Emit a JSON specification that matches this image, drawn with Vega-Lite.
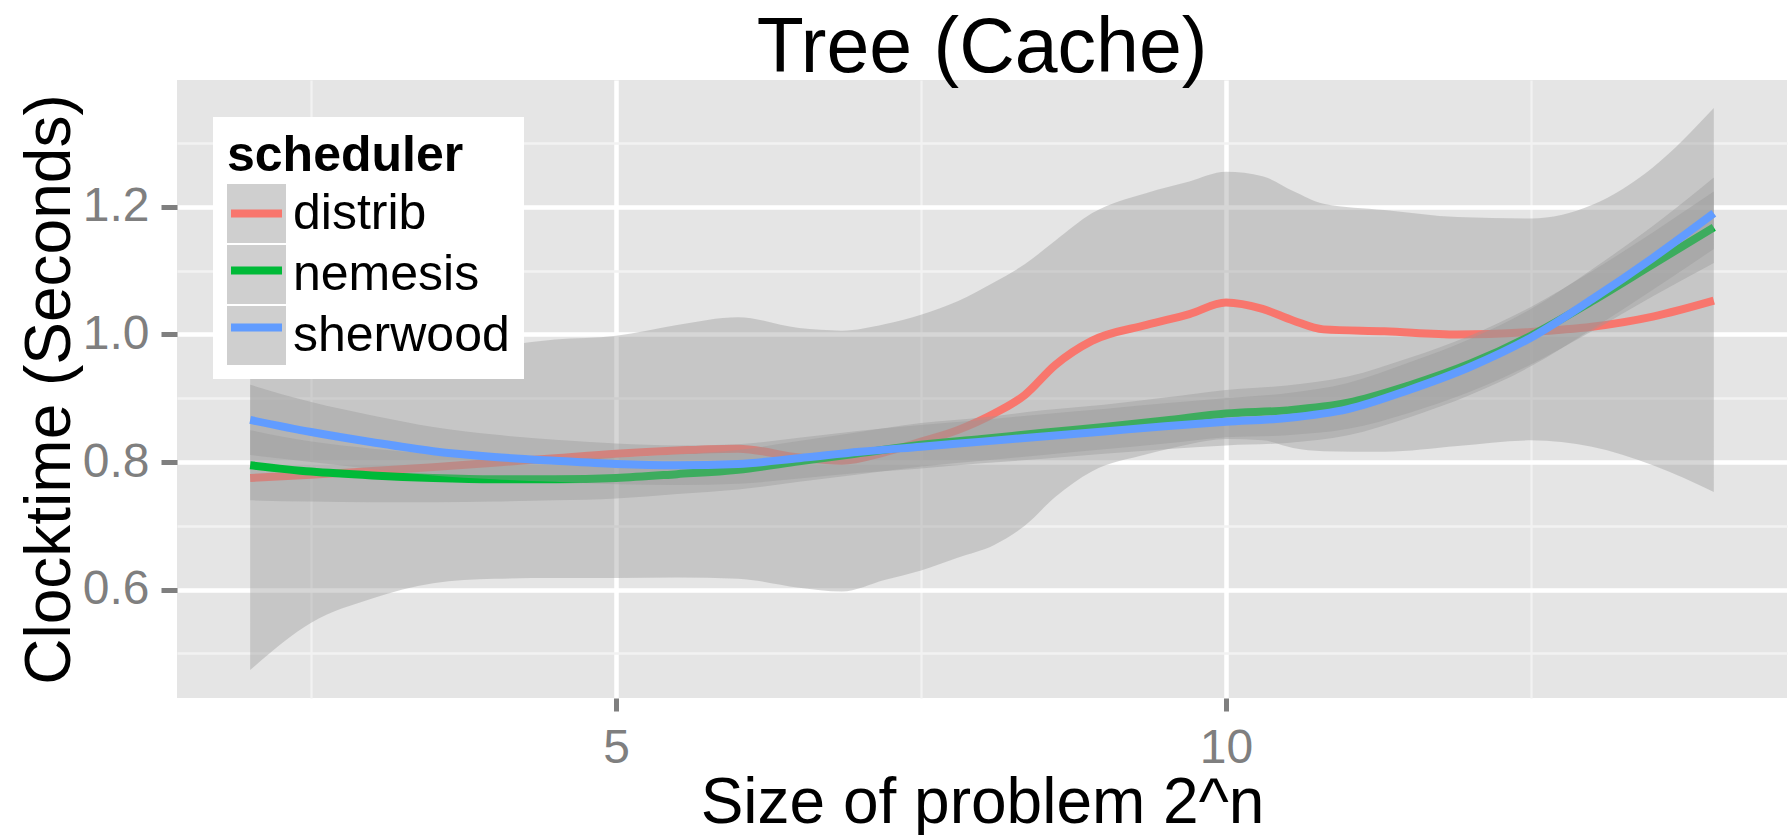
{
  "$schema": "https://vega.github.io/schema/vega-lite/v6.json",
  "width": 1610,
  "height": 618,
  "autosize": "none",
  "padding": {"left": 177, "top": 80, "right": 5, "bottom": 137},
  "background": "white",
  "title": {
    "text": "Tree (Cache)",
    "font": "Liberation Sans",
    "fontSize": 77,
    "fontWeight": "normal",
    "color": "black",
    "anchor": "middle",
    "frame": "group",
    "baseline": "alphabetic",
    "offset": 9,
    "dy": 78
  },
  "config": {
    "view": {"fill": "#E5E5E5", "stroke": null},
    "axis": {"domain": false, "labelFont": "Liberation Sans", "titleFont": "Liberation Sans"}
  },
  "data": {
    "values": [
      {"scheduler": "distrib", "n": 2, "clocktime": 0.775, "lower": 0.474, "upper": 1.076},
      {"scheduler": "distrib", "n": 2.5, "clocktime": 0.780, "lower": 0.548, "upper": 1.012},
      {"scheduler": "distrib", "n": 3, "clocktime": 0.786, "lower": 0.586, "upper": 0.986},
      {"scheduler": "distrib", "n": 3.5, "clocktime": 0.792, "lower": 0.610, "upper": 0.974},
      {"scheduler": "distrib", "n": 4, "clocktime": 0.799, "lower": 0.617, "upper": 0.981},
      {"scheduler": "distrib", "n": 4.5, "clocktime": 0.806, "lower": 0.618, "upper": 0.992},
      {"scheduler": "distrib", "n": 5, "clocktime": 0.813, "lower": 0.618, "upper": 0.998},
      {"scheduler": "distrib", "n": 5.5, "clocktime": 0.818, "lower": 0.619, "upper": 1.015},
      {"scheduler": "distrib", "n": 6, "clocktime": 0.821, "lower": 0.617, "upper": 1.027},
      {"scheduler": "distrib", "n": 6.5, "clocktime": 0.807, "lower": 0.603, "upper": 1.010},
      {"scheduler": "distrib", "n": 6.85, "clocktime": 0.802, "lower": 0.597, "upper": 1.006},
      {"scheduler": "distrib", "n": 7.2, "clocktime": 0.815, "lower": 0.615, "upper": 1.016},
      {"scheduler": "distrib", "n": 7.5, "clocktime": 0.832, "lower": 0.630, "upper": 1.031},
      {"scheduler": "distrib", "n": 7.8, "clocktime": 0.850, "lower": 0.650, "upper": 1.052},
      {"scheduler": "distrib", "n": 8.1, "clocktime": 0.876, "lower": 0.670, "upper": 1.082},
      {"scheduler": "distrib", "n": 8.35, "clocktime": 0.905, "lower": 0.700, "upper": 1.110},
      {"scheduler": "distrib", "n": 8.6, "clocktime": 0.952, "lower": 0.745, "upper": 1.147},
      {"scheduler": "distrib", "n": 8.9, "clocktime": 0.990, "lower": 0.785, "upper": 1.190},
      {"scheduler": "distrib", "n": 9.35, "clocktime": 1.015, "lower": 0.812, "upper": 1.222},
      {"scheduler": "distrib", "n": 9.7, "clocktime": 1.032, "lower": 0.828, "upper": 1.240},
      {"scheduler": "distrib", "n": 10, "clocktime": 1.050, "lower": 0.836, "upper": 1.255},
      {"scheduler": "distrib", "n": 10.3, "clocktime": 1.040, "lower": 0.834, "upper": 1.248},
      {"scheduler": "distrib", "n": 10.55, "clocktime": 1.022, "lower": 0.822, "upper": 1.225},
      {"scheduler": "distrib", "n": 10.8, "clocktime": 1.008, "lower": 0.817, "upper": 1.205},
      {"scheduler": "distrib", "n": 11.3, "clocktime": 1.005, "lower": 0.816, "upper": 1.195},
      {"scheduler": "distrib", "n": 11.9, "clocktime": 1.000, "lower": 0.825, "upper": 1.184},
      {"scheduler": "distrib", "n": 12.5, "clocktime": 1.004, "lower": 0.834, "upper": 1.182},
      {"scheduler": "distrib", "n": 13, "clocktime": 1.012, "lower": 0.824, "upper": 1.203},
      {"scheduler": "distrib", "n": 13.5, "clocktime": 1.028, "lower": 0.795, "upper": 1.262},
      {"scheduler": "distrib", "n": 14, "clocktime": 1.053, "lower": 0.753, "upper": 1.355},

      {"scheduler": "nemesis", "n": 2, "clocktime": 0.795, "lower": 0.740, "upper": 0.850},
      {"scheduler": "nemesis", "n": 2.5, "clocktime": 0.785, "lower": 0.738, "upper": 0.832},
      {"scheduler": "nemesis", "n": 3, "clocktime": 0.779, "lower": 0.737, "upper": 0.821},
      {"scheduler": "nemesis", "n": 3.5, "clocktime": 0.775, "lower": 0.737, "upper": 0.813},
      {"scheduler": "nemesis", "n": 4, "clocktime": 0.773, "lower": 0.738, "upper": 0.808},
      {"scheduler": "nemesis", "n": 4.5, "clocktime": 0.773, "lower": 0.740, "upper": 0.806},
      {"scheduler": "nemesis", "n": 5, "clocktime": 0.775, "lower": 0.743, "upper": 0.807},
      {"scheduler": "nemesis", "n": 5.5, "clocktime": 0.781, "lower": 0.750, "upper": 0.812},
      {"scheduler": "nemesis", "n": 6, "clocktime": 0.788, "lower": 0.757, "upper": 0.819},
      {"scheduler": "nemesis", "n": 6.5, "clocktime": 0.801, "lower": 0.769, "upper": 0.833},
      {"scheduler": "nemesis", "n": 7, "clocktime": 0.814, "lower": 0.781, "upper": 0.847},
      {"scheduler": "nemesis", "n": 7.5, "clocktime": 0.827, "lower": 0.793, "upper": 0.861},
      {"scheduler": "nemesis", "n": 8, "clocktime": 0.836, "lower": 0.802, "upper": 0.870},
      {"scheduler": "nemesis", "n": 8.5, "clocktime": 0.846, "lower": 0.811, "upper": 0.881},
      {"scheduler": "nemesis", "n": 9, "clocktime": 0.855, "lower": 0.820, "upper": 0.890},
      {"scheduler": "nemesis", "n": 9.5, "clocktime": 0.865, "lower": 0.829, "upper": 0.901},
      {"scheduler": "nemesis", "n": 10, "clocktime": 0.876, "lower": 0.839, "upper": 0.913},
      {"scheduler": "nemesis", "n": 10.5, "clocktime": 0.881, "lower": 0.842, "upper": 0.920},
      {"scheduler": "nemesis", "n": 11, "clocktime": 0.893, "lower": 0.852, "upper": 0.934},
      {"scheduler": "nemesis", "n": 11.5, "clocktime": 0.920, "lower": 0.877, "upper": 0.963},
      {"scheduler": "nemesis", "n": 12, "clocktime": 0.954, "lower": 0.910, "upper": 0.998},
      {"scheduler": "nemesis", "n": 12.5, "clocktime": 0.998, "lower": 0.953, "upper": 1.043},
      {"scheduler": "nemesis", "n": 13, "clocktime": 1.052, "lower": 1.005, "upper": 1.099},
      {"scheduler": "nemesis", "n": 13.5, "clocktime": 1.110, "lower": 1.060, "upper": 1.160},
      {"scheduler": "nemesis", "n": 14, "clocktime": 1.168, "lower": 1.112, "upper": 1.224},

      {"scheduler": "sherwood", "n": 2, "clocktime": 0.866, "lower": 0.811, "upper": 0.921},
      {"scheduler": "sherwood", "n": 2.5, "clocktime": 0.847, "lower": 0.800, "upper": 0.894},
      {"scheduler": "sherwood", "n": 3, "clocktime": 0.831, "lower": 0.789, "upper": 0.873},
      {"scheduler": "sherwood", "n": 3.5, "clocktime": 0.817, "lower": 0.779, "upper": 0.855},
      {"scheduler": "sherwood", "n": 4, "clocktime": 0.808, "lower": 0.773, "upper": 0.843},
      {"scheduler": "sherwood", "n": 4.5, "clocktime": 0.802, "lower": 0.769, "upper": 0.835},
      {"scheduler": "sherwood", "n": 5, "clocktime": 0.797, "lower": 0.765, "upper": 0.829},
      {"scheduler": "sherwood", "n": 5.5, "clocktime": 0.795, "lower": 0.764, "upper": 0.826},
      {"scheduler": "sherwood", "n": 6, "clocktime": 0.797, "lower": 0.766, "upper": 0.828},
      {"scheduler": "sherwood", "n": 6.5, "clocktime": 0.806, "lower": 0.774, "upper": 0.838},
      {"scheduler": "sherwood", "n": 7, "clocktime": 0.816, "lower": 0.783, "upper": 0.849},
      {"scheduler": "sherwood", "n": 7.5, "clocktime": 0.824, "lower": 0.790, "upper": 0.858},
      {"scheduler": "sherwood", "n": 8, "clocktime": 0.832, "lower": 0.798, "upper": 0.866},
      {"scheduler": "sherwood", "n": 8.5, "clocktime": 0.840, "lower": 0.805, "upper": 0.875},
      {"scheduler": "sherwood", "n": 9, "clocktime": 0.848, "lower": 0.813, "upper": 0.883},
      {"scheduler": "sherwood", "n": 9.5, "clocktime": 0.856, "lower": 0.820, "upper": 0.892},
      {"scheduler": "sherwood", "n": 10, "clocktime": 0.863, "lower": 0.826, "upper": 0.900},
      {"scheduler": "sherwood", "n": 10.5, "clocktime": 0.869, "lower": 0.830, "upper": 0.908},
      {"scheduler": "sherwood", "n": 11, "clocktime": 0.883, "lower": 0.842, "upper": 0.924},
      {"scheduler": "sherwood", "n": 11.5, "clocktime": 0.913, "lower": 0.870, "upper": 0.956},
      {"scheduler": "sherwood", "n": 12, "clocktime": 0.949, "lower": 0.905, "upper": 0.993},
      {"scheduler": "sherwood", "n": 12.5, "clocktime": 0.995, "lower": 0.950, "upper": 1.040},
      {"scheduler": "sherwood", "n": 13, "clocktime": 1.055, "lower": 1.008, "upper": 1.102},
      {"scheduler": "sherwood", "n": 13.5, "clocktime": 1.120, "lower": 1.070, "upper": 1.170},
      {"scheduler": "sherwood", "n": 14, "clocktime": 1.190, "lower": 1.134, "upper": 1.246}
    ]
  },
  "resolve": {"axis": {"x": "independent", "y": "independent"}},
  "layer": [
    {
      "transform": [{"filter": "datum.scheduler === 'distrib'"}],
      "mark": {"type": "area", "interpolate": "monotone", "fillOpacity": 0.4},
      "encoding": {
        "x": {"field": "n", "type": "quantitative",
              "scale": {"domain": [1.4, 14.6], "nice": false, "zero": false},
              "axis": {"orient": "bottom", "values": [2.5, 7.5, 12.5], "grid": true, "gridColor": "#F2F2F2", "gridWidth": 2.3,
                       "labels": false, "ticks": false, "domain": false, "title": null}},
        "y": {"field": "lower", "type": "quantitative",
              "scale": {"domain": [0.43, 1.399], "nice": false, "zero": false},
              "axis": {"orient": "left", "values": [0.5, 0.7, 0.9, 1.1, 1.3], "grid": true, "gridColor": "#F2F2F2", "gridWidth": 2.3,
                       "labels": false, "ticks": false, "domain": false, "title": null}},
        "y2": {"field": "upper"},
        "fill": {"field": "scheduler", "type": "nominal",
                 "scale": {"range": ["#999999", "#999999", "#999999"]},
                 "legend": {
                   "title": "scheduler", "orient": "none", "legendX": 36, "legendY": 37,
                   "padding": 14, "fillColor": "white", "strokeColor": null,
                   "titleFont": "Liberation Sans", "titleFontSize": 50, "titleFontWeight": "bold", "titleColor": "black",
                   "titlePadding": 3, "titleLimit": 600, "labelLimit": 600,
                   "labelFont": "Liberation Sans", "labelFontSize": 50, "labelColor": "black", "labelOffset": 7,
                   "symbolType": "square", "symbolSize": 3481, "symbolStrokeWidth": 0, "symbolOpacity": 0.47,
                   "rowPadding": 2, "zindex": 0
                 }}
      }
    },
    {
      "transform": [{"filter": "datum.scheduler === 'distrib'"}],
      "mark": {"type": "line", "interpolate": "monotone", "strokeWidth": 8},
      "encoding": {
        "x": {"field": "n", "type": "quantitative",
              "axis": {"orient": "bottom", "values": [5, 10], "grid": true, "gridColor": "white", "gridWidth": 4.5,
                       "ticks": true, "tickColor": "#7F7F7F", "tickSize": 13, "tickWidth": 5,
                       "labelFontSize": 48, "labelColor": "#7F7F7F", "labelPadding": 13, "domain": false,
                       "title": "Size of problem 2^n", "titleFontSize": 64, "titleFontWeight": "normal",
                       "titleColor": "black", "titleBaseline": "alphabetic", "titleAlign": "center",
                       "titleX": 805, "titleY": 124}},
        "y": {"field": "clocktime", "type": "quantitative",
              "axis": {"orient": "left", "values": [0.6, 0.8, 1.0, 1.2], "format": ".1f", "grid": true, "gridColor": "white", "gridWidth": 4.5,
                       "ticks": true, "tickColor": "#7F7F7F", "tickSize": 16, "tickWidth": 5,
                       "labelFontSize": 48, "labelColor": "#7F7F7F", "labelPadding": 12, "domain": false,
                       "title": "Clocktime (Seconds)", "titleFontSize": 64, "titleFontWeight": "normal",
                       "titleColor": "black", "titleBaseline": "alphabetic", "titleAlign": "center",
                       "titleAngle": 270, "titleX": -108, "titleY": 309}},
        "color": {"field": "scheduler", "type": "nominal",
                  "scale": {"domain": ["distrib", "nemesis", "sherwood"], "range": ["#F8766D", "#00BA38", "#619CFF"]},
                  "legend": {
                    "title": "scheduler", "orient": "none", "legendX": 36, "legendY": 37,
                    "padding": 14,
                    "titleFont": "Liberation Sans", "titleFontSize": 50, "titleFontWeight": "bold", "titleColor": "transparent",
                    "titlePadding": 3, "titleLimit": 600, "labelLimit": 600,
                    "labelFont": "Liberation Sans", "labelFontSize": 50, "labelColor": "transparent", "labelOffset": 7,
                    "symbolType": "stroke", "symbolSize": 2601, "symbolStrokeWidth": 8,
                    "rowPadding": 2, "zindex": 1
                  }}
      }
    },
    {
      "transform": [{"filter": "datum.scheduler === 'nemesis'"}],
      "mark": {"type": "area", "interpolate": "monotone", "fillOpacity": 0.4},
      "encoding": {
        "x": {"field": "n", "type": "quantitative", "axis": null},
        "y": {"field": "lower", "type": "quantitative", "axis": null},
        "y2": {"field": "upper"},
        "fill": {"field": "scheduler", "type": "nominal", "legend": null}
      }
    },
    {
      "transform": [{"filter": "datum.scheduler === 'nemesis'"}],
      "mark": {"type": "line", "interpolate": "monotone", "strokeWidth": 8},
      "encoding": {
        "x": {"field": "n", "type": "quantitative", "axis": null},
        "y": {"field": "clocktime", "type": "quantitative", "axis": null},
        "color": {"field": "scheduler", "type": "nominal", "legend": null}
      }
    },
    {
      "transform": [{"filter": "datum.scheduler === 'sherwood'"}],
      "mark": {"type": "area", "interpolate": "monotone", "fillOpacity": 0.4},
      "encoding": {
        "x": {"field": "n", "type": "quantitative", "axis": null},
        "y": {"field": "lower", "type": "quantitative", "axis": null},
        "y2": {"field": "upper"},
        "fill": {"field": "scheduler", "type": "nominal", "legend": null}
      }
    },
    {
      "transform": [{"filter": "datum.scheduler === 'sherwood'"}],
      "mark": {"type": "line", "interpolate": "monotone", "strokeWidth": 8},
      "encoding": {
        "x": {"field": "n", "type": "quantitative", "axis": null},
        "y": {"field": "clocktime", "type": "quantitative", "axis": null},
        "color": {"field": "scheduler", "type": "nominal", "legend": null}
      }
    }
  ]
}
